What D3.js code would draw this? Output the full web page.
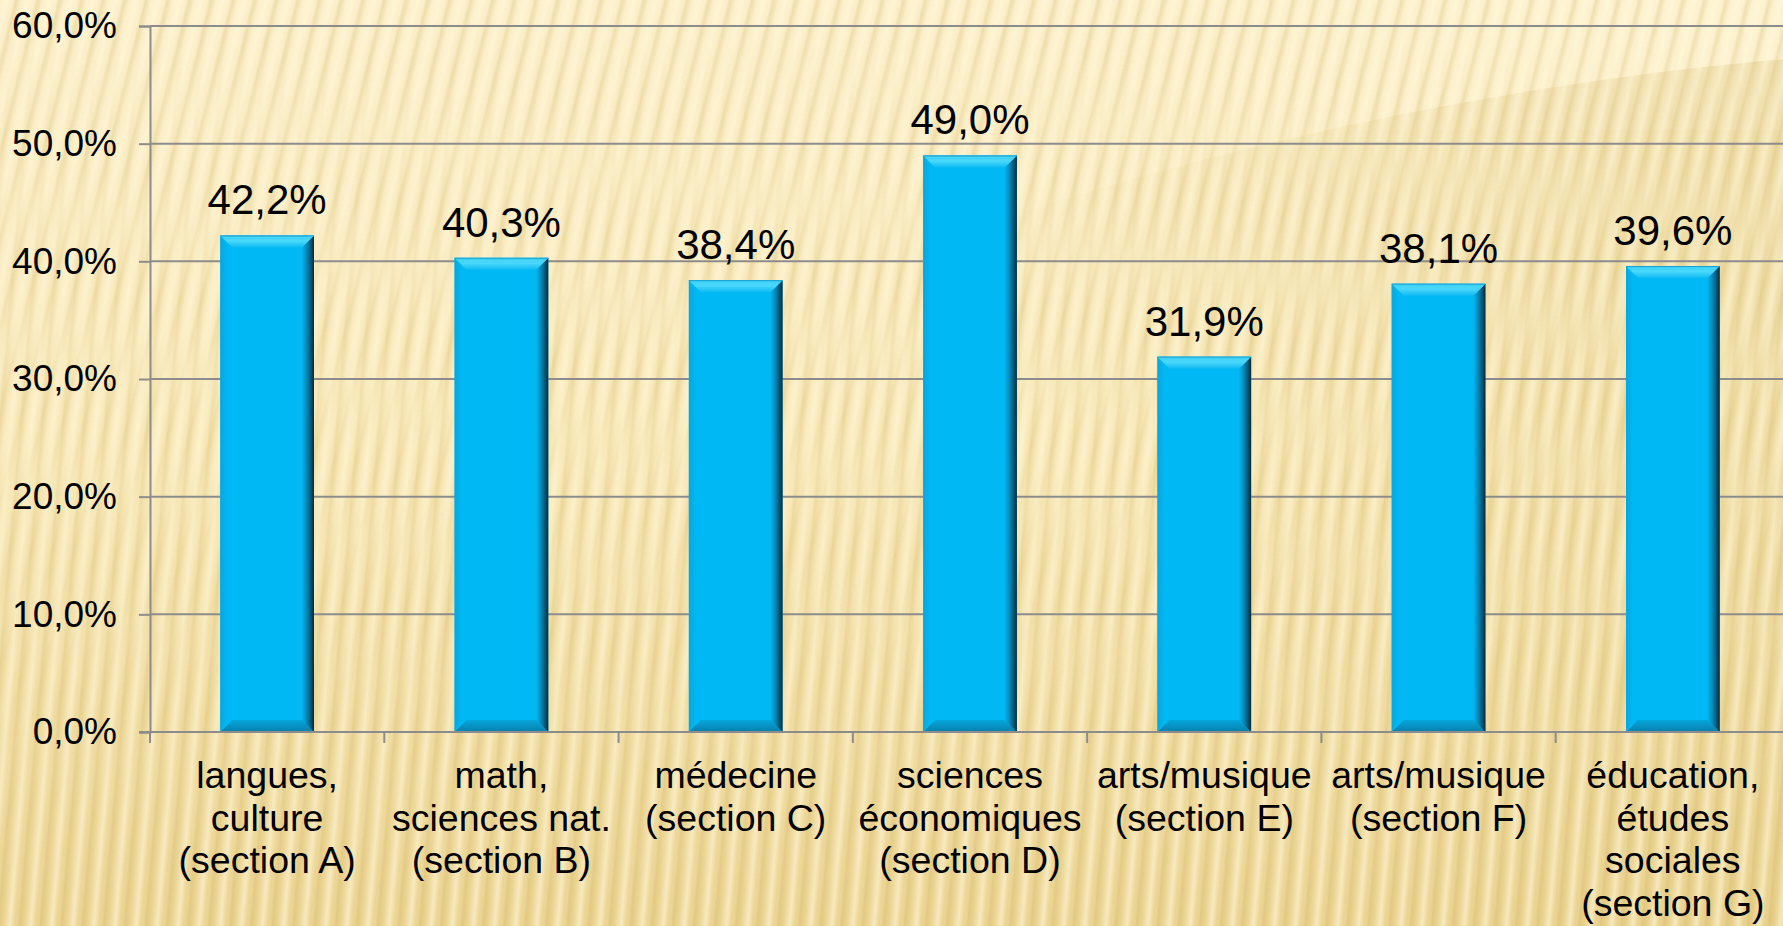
<!DOCTYPE html>
<html>
<head>
<meta charset="utf-8">
<script src="https://cdn.jsdelivr.net/npm/d3@7"></script>
<style>
  html, body { margin: 0; padding: 0; overflow: hidden; background: #f6e4ad; }
  svg { display: block; font-family: "Liberation Sans", Arial, sans-serif; }
</style>
</head>
<body>
<svg id="chart" width="1783" height="926"></svg>
<script>
const categories = ["A", "B", "C", "D", "E", "F", "G"];
const categoryLabels = [
  ["langues,", "culture", "(section A)"],
  ["math,", "sciences nat.", "(section B)"],
  ["médecine", "(section C)"],
  ["sciences", "économiques", "(section D)"],
  ["arts/musique", "(section E)"],
  ["arts/musique", "(section F)"],
  ["éducation,", "études", "sociales", "(section G)"]
];
const values = [0.422, 0.403, 0.384, 0.490, 0.319, 0.381, 0.396];
const yTicks = [0, 0.1, 0.2, 0.3, 0.4, 0.5, 0.6];

const W = 1783, H = 926;
const svg = d3.select("#chart");
const defs = svg.append("defs");

// background gradient
const bg = defs.append("linearGradient").attr("id", "bgGrad")
  .attr("x1", 0).attr("y1", 0).attr("x2", 0).attr("y2", 1);
bg.append("stop").attr("offset", "0%").attr("stop-color", "#fcf0cb");
bg.append("stop").attr("offset", "50%").attr("stop-color", "#f8e8b6");
bg.append("stop").attr("offset", "100%").attr("stop-color", "#ebd492");

// stripe pattern
const sg = defs.append("linearGradient").attr("id", "stripeGrad")
  .attr("x1", 0).attr("y1", 0).attr("x2", 1).attr("y2", 0);
sg.append("stop").attr("offset", "0%").attr("stop-color", "#fff8dc").attr("stop-opacity", 0.0);
sg.append("stop").attr("offset", "30%").attr("stop-color", "#fff8dc").attr("stop-opacity", 0.6);
sg.append("stop").attr("offset", "55%").attr("stop-color", "#fff8dc").attr("stop-opacity", 0.0);
sg.append("stop").attr("offset", "75%").attr("stop-color", "#c9a850").attr("stop-opacity", 0.26);
sg.append("stop").attr("offset", "100%").attr("stop-color", "#c9a850").attr("stop-opacity", 0.0);
const pat = defs.append("pattern").attr("id", "stripes")
  .attr("patternUnits", "userSpaceOnUse").attr("width", 21).attr("height", 40)
  .attr("patternTransform", "rotate(14)");
pat.append("rect").attr("width", 21).attr("height", 40).attr("fill", "url(#stripeGrad)");

const pat2 = defs.append("pattern").attr("id", "stripes2")
  .attr("patternUnits", "userSpaceOnUse").attr("width", 21).attr("height", 40)
  .attr("patternTransform", "rotate(5)");
pat2.append("rect").attr("width", 21).attr("height", 40).attr("fill", "url(#stripeGrad)");

const fadeTop = defs.append("linearGradient").attr("id", "fadeTop")
  .attr("x1", 0).attr("y1", 0).attr("x2", 0).attr("y2", 1);
fadeTop.append("stop").attr("offset", "0%").attr("stop-color", "#fff").attr("stop-opacity", 1);
fadeTop.append("stop").attr("offset", "60%").attr("stop-color", "#fff").attr("stop-opacity", 0.3);
fadeTop.append("stop").attr("offset", "100%").attr("stop-color", "#fff").attr("stop-opacity", 0);
const maskTop = defs.append("mask").attr("id", "maskTop");
maskTop.append("rect").attr("width", W).attr("height", H).attr("fill", "url(#fadeTop)");
const fadeBot = defs.append("linearGradient").attr("id", "fadeBot")
  .attr("x1", 0).attr("y1", 0).attr("x2", 0).attr("y2", 1);
fadeBot.append("stop").attr("offset", "0%").attr("stop-color", "#fff").attr("stop-opacity", 0);
fadeBot.append("stop").attr("offset", "40%").attr("stop-color", "#fff").attr("stop-opacity", 0.7);
fadeBot.append("stop").attr("offset", "100%").attr("stop-color", "#fff").attr("stop-opacity", 1);
const maskBot = defs.append("mask").attr("id", "maskBot");
maskBot.append("rect").attr("width", W).attr("height", H).attr("fill", "url(#fadeBot)");

// upper-right arc shade (fades toward left and bottom)
const arcG = defs.append("linearGradient").attr("id", "arcGrad")
  .attr("gradientUnits", "userSpaceOnUse")
  .attr("x1", 1100).attr("y1", 500).attr("x2", 1783).attr("y2", 80);
arcG.append("stop").attr("offset", "0%").attr("stop-color", "#d6bb68").attr("stop-opacity", 0.0);
arcG.append("stop").attr("offset", "100%").attr("stop-color", "#d6bb68").attr("stop-opacity", 0.3);
const arcHi = defs.append("linearGradient").attr("id", "arcHi")
  .attr("gradientUnits", "userSpaceOnUse")
  .attr("x1", 1200).attr("y1", 0).attr("x2", 1783).attr("y2", 0);
arcHi.append("stop").attr("offset", "0%").attr("stop-color", "#fff6d8").attr("stop-opacity", 0.0);
arcHi.append("stop").attr("offset", "100%").attr("stop-color", "#fff6d8").attr("stop-opacity", 0.5);

svg.append("rect").attr("width", W).attr("height", H).attr("fill", "url(#bgGrad)");
svg.append("rect").attr("x", 1150).attr("y", 0).attr("width", W - 1150).attr("height", 130).attr("fill", "url(#arcHi)");
svg.append("circle").attr("cx", 2100).attr("cy", 3600).attr("r", 3555)
  .attr("fill", "url(#arcGrad)");
svg.append("rect").attr("width", W).attr("height", H).attr("fill", "url(#stripes)").attr("mask", "url(#maskTop)");
svg.append("rect").attr("width", W).attr("height", H).attr("fill", "url(#stripes2)").attr("mask", "url(#maskBot)");

// scales
const x0 = 150, x1 = 1790;
const xCat = d3.scaleBand().domain(categories).range([x0, x1]).padding(0);
const xBar = d3.scaleBand().domain(categories).range([x0, x1]).paddingInner(0.6).paddingOuter(0.3);
const y = d3.scaleLinear().domain([0, 0.6]).range([732, 26]);

const fmt = v => d3.format(".1f")(v * 100).replace(".", ",") + "%";
const axisColor = "#8c8c8c";

// gridlines
svg.append("g").selectAll("line").data(yTicks.slice(1)).join("line")
  .attr("x1", x0).attr("x2", W).attr("y1", d => y(d)).attr("y2", d => y(d))
  .attr("stroke", axisColor).attr("stroke-width", 2);

// y axis
const yAxis = svg.append("g").attr("transform", `translate(${x0},0)`)
  .call(d3.axisLeft(y).tickValues(yTicks).tickSize(11).tickPadding(22).tickFormat(fmt));
yAxis.select(".domain").attr("stroke", axisColor).attr("stroke-width", 2);
yAxis.selectAll(".tick line").attr("stroke", axisColor).attr("stroke-width", 2);
yAxis.selectAll(".tick text").attr("fill", "#000").attr("font-size", 37)
  .attr("font-family", "Liberation Sans, Arial, sans-serif");

// bar gradients
const topG = defs.append("linearGradient").attr("id", "topBevel").attr("x1", 0).attr("y1", 0).attr("x2", 0).attr("y2", 1);
topG.append("stop").attr("offset", "0%").attr("stop-color", "#3fd0f6");
topG.append("stop").attr("offset", "45%").attr("stop-color", "#4ad8fb");
topG.append("stop").attr("offset", "100%").attr("stop-color", "#0fbaf2");
const rightG = defs.append("linearGradient").attr("id", "rightBevel").attr("x1", 0).attr("y1", 0).attr("x2", 1).attr("y2", 0);
rightG.append("stop").attr("offset", "0%").attr("stop-color", "#00b4ef");
rightG.append("stop").attr("offset", "45%").attr("stop-color", "#0082b0");
rightG.append("stop").attr("offset", "100%").attr("stop-color", "#002a3c");
const botG = defs.append("linearGradient").attr("id", "botBevel").attr("x1", 0).attr("y1", 0).attr("x2", 0).attr("y2", 1);
botG.append("stop").attr("offset", "0%").attr("stop-color", "#05a6dc");
botG.append("stop").attr("offset", "100%").attr("stop-color", "#0a7eaa");
const leftG = defs.append("linearGradient").attr("id", "leftBevel").attr("x1", 0).attr("y1", 0).attr("x2", 1).attr("y2", 0);
leftG.append("stop").attr("offset", "0%").attr("stop-color", "#0aa6dc");
leftG.append("stop").attr("offset", "100%").attr("stop-color", "#00b8f4");

const bev = 12;
const bars = svg.append("g").selectAll("g").data(categories).join("g");
bars.each(function(c, i) {
  const g = d3.select(this);
  const bx = xBar(c), bw = xBar.bandwidth();
  const top = y(values[i]), bot = y(0);
  g.append("rect").attr("x", bx).attr("y", top).attr("width", bw).attr("height", bot - top)
    .attr("fill", "#00b8f4");
  g.append("path").attr("d", `M${bx},${top}L${bx + bev * 0.6},${top + bev}L${bx + bev * 0.6},${bot - bev}L${bx},${bot}Z`)
    .attr("fill", "url(#leftBevel)");
  g.append("path").attr("d", `M${bx},${bot}L${bx + bev},${bot - bev}L${bx + bw - bev},${bot - bev}L${bx + bw},${bot}Z`)
    .attr("fill", "url(#botBevel)");
  g.append("path").attr("d", `M${bx + bw},${top}L${bx + bw - bev},${top + bev}L${bx + bw - bev},${bot - bev}L${bx + bw},${bot}Z`)
    .attr("fill", "url(#rightBevel)");
  g.append("path").attr("d", `M${bx},${top}L${bx + bw},${top}L${bx + bw - bev},${top + bev}L${bx + bev},${top + bev}Z`)
    .attr("fill", "url(#topBevel)");
  g.append("line").attr("x1", bx).attr("x2", bx + bw).attr("y1", top + 0.5).attr("y2", top + 0.5)
    .attr("stroke", "#1a9fd0").attr("stroke-width", 1);
});

// x axis line and ticks
svg.append("line").attr("x1", x0 - 11).attr("x2", W).attr("y1", y(0)).attr("y2", y(0))
  .attr("stroke", axisColor).attr("stroke-width", 2);
const bounds = categories.map(c => xCat(c)).concat([x1]);
svg.append("g").selectAll("line").data(bounds).join("line")
  .attr("x1", d => d).attr("x2", d => d).attr("y1", y(0)).attr("y2", y(0) + 11)
  .attr("stroke", axisColor).attr("stroke-width", 2);

// value labels
svg.append("g").selectAll("text").data(categories).join("text")
  .attr("x", c => xBar(c) + xBar.bandwidth() / 2)
  .attr("y", (c, i) => y(values[i]) - 21)
  .attr("text-anchor", "middle").attr("font-size", 42).attr("fill", "#000")
  .text((c, i) => fmt(values[i]));

// category labels
const catG = svg.append("g").selectAll("text").data(categories).join("text")
  .attr("text-anchor", "middle").attr("font-size", 37.5).attr("fill", "#000");
catG.each(function(c, i) {
  const t = d3.select(this);
  categoryLabels[i].forEach((line, k) => {
    t.append("tspan").attr("x", xCat(c) + xCat.bandwidth() / 2)
      .attr("y", y(0) + 56 + k * 42.7).text(line);
  });
});
</script>
</body>
</html>
